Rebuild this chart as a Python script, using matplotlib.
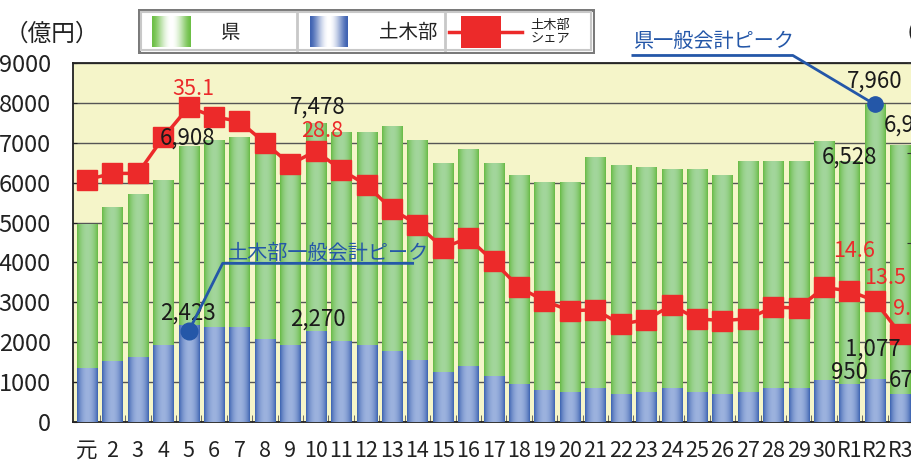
import matplotlib.pyplot as plt
import numpy as np
from matplotlib.colors import LinearSegmentedColormap
from matplotlib.patches import Rectangle

plt.rcParams['font.family'] = ['Noto Sans CJK JP', 'DejaVu Sans']

# data (億円 / %)
years = ['元'] + [str(i) for i in range(2, 31)] + ['R1', 'R2', 'R3']
pref_total = [4940, 5370, 5710, 6050, 6908, 7050, 7120, 6710, 6230, 7478,
              7260, 7250, 7420, 7050, 6480, 6820, 6470, 6170, 6000, 6000,
              6620, 6420, 6370, 6320, 6340, 6190, 6520, 6520, 6520, 7040,
              6528, 7960, 6942]
doboku = [1330, 1510, 1610, 1910, 2423, 2380, 2380, 2080, 1930, 2270,
          2030, 1910, 1760, 1550, 1250, 1400, 1150, 930, 800, 730,
          830, 700, 730, 830, 730, 700, 750, 850, 830, 1050,
          950, 1077, 677]
share = [27.0, 27.7, 27.7, 31.7, 35.1, 34.0, 33.5, 31.1, 28.7, 30.2,
         28.1, 26.4, 23.7, 22.0, 19.4, 20.5, 17.9, 15.0, 13.5, 12.4,
         12.5, 10.9, 11.4, 13.0, 11.5, 11.3, 11.5, 12.8, 12.7, 15.0,
         14.6, 13.5, 9.8]

# labelled points: (index, text, dx px, dy px, ha)
total_notes = [(4, '6,908', -1, 8, 'center'), (9, '7,478', 2, 17, 'center'),
               (30, '6,528', 0, 4, 'center'), (31, '7,960', 0, 23, 'center'),
               (32, '6,942', -17, 20, 'left')]
doboku_notes = [(4, '2,423', -1, 12, 'center'), (9, '2,270', 2, 12, 'center'),
                (30, '950', 0, 12, 'center'), (31, '1,077', -2, 30, 'center'),
                (32, '677', -12, 14, 'left')]
share_notes = [(4, '35.1', 5, 18, 'center'), (9, '28.8', 6, 20, 'center'),
               (30, '14.6', 5, 40, 'center'), (31, '13.5', 10, 23, 'center'),
               (32, '9.8', -7, 25, 'left')]

GREEN_EDGE, GREEN_MID = '#63b93f', '#a3d69c'
BLUE_EDGE, BLUE_MID = '#365eae', '#9cb2de'
RED = '#ec2a2a'
NAVY = '#2457a8'

fig = plt.figure(figsize=(9.12, 4.65), dpi=100)
ax = fig.add_axes([73 / 912, 43 / 465, 840 / 912, 359 / 465])
ax.set_facecolor('#f5f5c9')

x = np.arange(len(years))
w = 0.79
t = np.linspace(0, 1, 64)
prof = (np.sin(np.pi * t) ** 0.7)[None, :]
green_cm = LinearSegmentedColormap.from_list('g', [GREEN_EDGE, GREEN_MID])
blue_cm = LinearSegmentedColormap.from_list('b', [BLUE_EDGE, BLUE_MID])

for i in x:
    ax.imshow(prof, cmap=green_cm, extent=(i - w / 2, i + w / 2, 0, pref_total[i]),
              aspect='auto', interpolation='bicubic', zorder=2)
    ax.imshow(prof, cmap=blue_cm, extent=(i - w / 2, i + w / 2, 0, doboku[i]),
              aspect='auto', interpolation='bicubic', zorder=3)

ax.set_xlim(-0.55, 32.5)
ax.set_ylim(0, 9000)
ax.set_yticks(np.arange(0, 9001, 1000))
ax.yaxis.grid(True, color='#555555', lw=1)
ax.set_axisbelow(True)
ax.tick_params(axis='y', direction='in', length=3, labelsize=17, pad=16, colors='#222222')
ax.set_xticks(x)
ax.set_xticklabels(years)
ax.tick_params(axis='x', length=0, labelsize=15.5, pad=13, colors='#222222')
ax.set_xticks(x[:-1] + 0.5, minor=True)
ax.tick_params(axis='x', which='minor', direction='in', length=5, color='#555555')
for s in ['left', 'bottom', 'top']:
    ax.spines[s].set_color('#222222')
    ax.spines[s].set_linewidth(1.3)

ax2 = ax.twinx()
ax2.set_ylim(0, 40)
ax2.set_yticks([0, 10, 20, 30, 40])
ax2.tick_params(direction='in', length=4, labelright=False, color='#333333')
for s in ['left', 'bottom', 'top']:
    ax2.spines[s].set_visible(False)
ax2.plot(x, share, color=RED, lw=2.5, marker='s', ms=15, mec=RED, zorder=3)

fig.canvas.draw()


def at(i, v, dx, dy):
    # data point shifted by some pixels, back in data coords of ax
    p = ax.transData.transform((i, v)) + np.array([dx, dy])
    return ax.transData.inverted().transform(p)


for i, txt, dx, dy, ha in total_notes:
    px, py = at(i, pref_total[i], dx, dy)
    ax2.text(px, py, txt, transform=ax.transData, ha=ha, va='center',
             fontsize=16, color='#1a1a1a', zorder=6)
for i, txt, dx, dy, ha in doboku_notes:
    px, py = at(i, doboku[i], dx, dy)
    ax2.text(px, py, txt, transform=ax.transData, ha=ha, va='center',
             fontsize=16, color='#1a1a1a', zorder=6)
for i, txt, dx, dy, ha in share_notes:
    p = ax2.transData.transform((i, share[i])) + np.array([dx, dy])
    px, py = ax.transData.inverted().transform(p)
    ax2.text(px, py, txt, transform=ax.transData, ha=ha, va='center',
             fontsize=15.5, color=RED, zorder=6)

# peak callouts
pk = int(np.argmax(pref_total))
pts = [at(pk, pref_total[pk], 0, 0), at(pk, pref_total[pk], -82, 49),
       at(pk, pref_total[pk], -242, 49)]
ax2.plot([p[0] for p in pts], [p[1] for p in pts], color=NAVY, lw=2,
         transform=ax.transData, clip_on=False, zorder=7)
ax2.plot(pts[0][0], pts[0][1], 'o', color=NAVY, ms=11, transform=ax.transData,
         clip_on=False, zorder=8)
tx, ty = at(pk, pref_total[pk], -242, 58)
ax2.text(tx, ty, '県一般会計ピーク', transform=ax.transData, color=NAVY,
         fontsize=14.5, ha='left', va='baseline', clip_on=False, zorder=8)

dk = int(np.argmax(doboku))
pts = [at(dk, doboku[dk], 0, -6), at(dk, doboku[dk], 34, 62),
       at(dk, doboku[dk], 224, 62)]
ax2.plot([p[0] for p in pts], [p[1] for p in pts], color=NAVY, lw=2,
         transform=ax.transData, zorder=7)
ax2.plot(pts[0][0], pts[0][1], 'o', color=NAVY, ms=12, transform=ax.transData, zorder=8)
tx, ty = at(dk, doboku[dk], 39, 66)
ax2.text(tx, ty, '土木部一般会計ピーク', transform=ax.transData, color=NAVY,
         fontsize=14.5, ha='left', va='baseline', zorder=8)

# unit labels
fig.text(5 / 912, 1 - 34 / 465, '（億円）', fontsize=17, va='center', ha='left', color='#222222')
fig.text(893 / 912, 1 - 34 / 465, '（%）', fontsize=17, va='center', ha='left', color='#222222')

# legend box drawn by hand
lax = fig.add_axes([138 / 912, 1 - 54 / 465, 457 / 912, 45 / 465])
lax.axis('off')
lax.add_patch(Rectangle((139, 10), 455, 43, fc='white', ec='#7a7a7a', lw=2.2, zorder=1))
lax.add_patch(Rectangle((141.5, 12.5), 450, 38, fc='none', ec='#c8c8c8', lw=1.5, zorder=1))
for xs in [297, 445]:
    lax.plot([xs, xs], [12.5, 50.5], color='#c8c8c8', lw=2, zorder=2)
lprof = (np.sin(np.pi * t) ** 1.5)[None, :]
lax.imshow(lprof, cmap=LinearSegmentedColormap.from_list('lg', ['#6cbf45', 'white']),
           extent=(152, 191, 47, 16), aspect='auto', interpolation='bicubic', zorder=3)
lax.imshow(lprof, cmap=LinearSegmentedColormap.from_list('lb', ['#3e62b2', 'white']),
           extent=(310, 348, 47, 16), aspect='auto', interpolation='bicubic', zorder=3)
lax.set_xlim(138, 595)
lax.set_ylim(54, 9)
lax.text(231, 32, '県', fontsize=14, ha='center', va='center', color='#222222')
lax.text(408, 32, '土木部', fontsize=14, ha='center', va='center', color='#222222')
lax.plot([449, 522], [32, 32], color=RED, lw=2.5, zorder=3)
lax.add_patch(Rectangle((461, 16), 40, 32, fc=RED, ec='none', zorder=4))
lax.text(550, 32, '土木部\nシェア', fontsize=9.5, ha='center', va='center',
         linespacing=1.1, color='#222222')

fig.savefig('out.png', dpi=100)
